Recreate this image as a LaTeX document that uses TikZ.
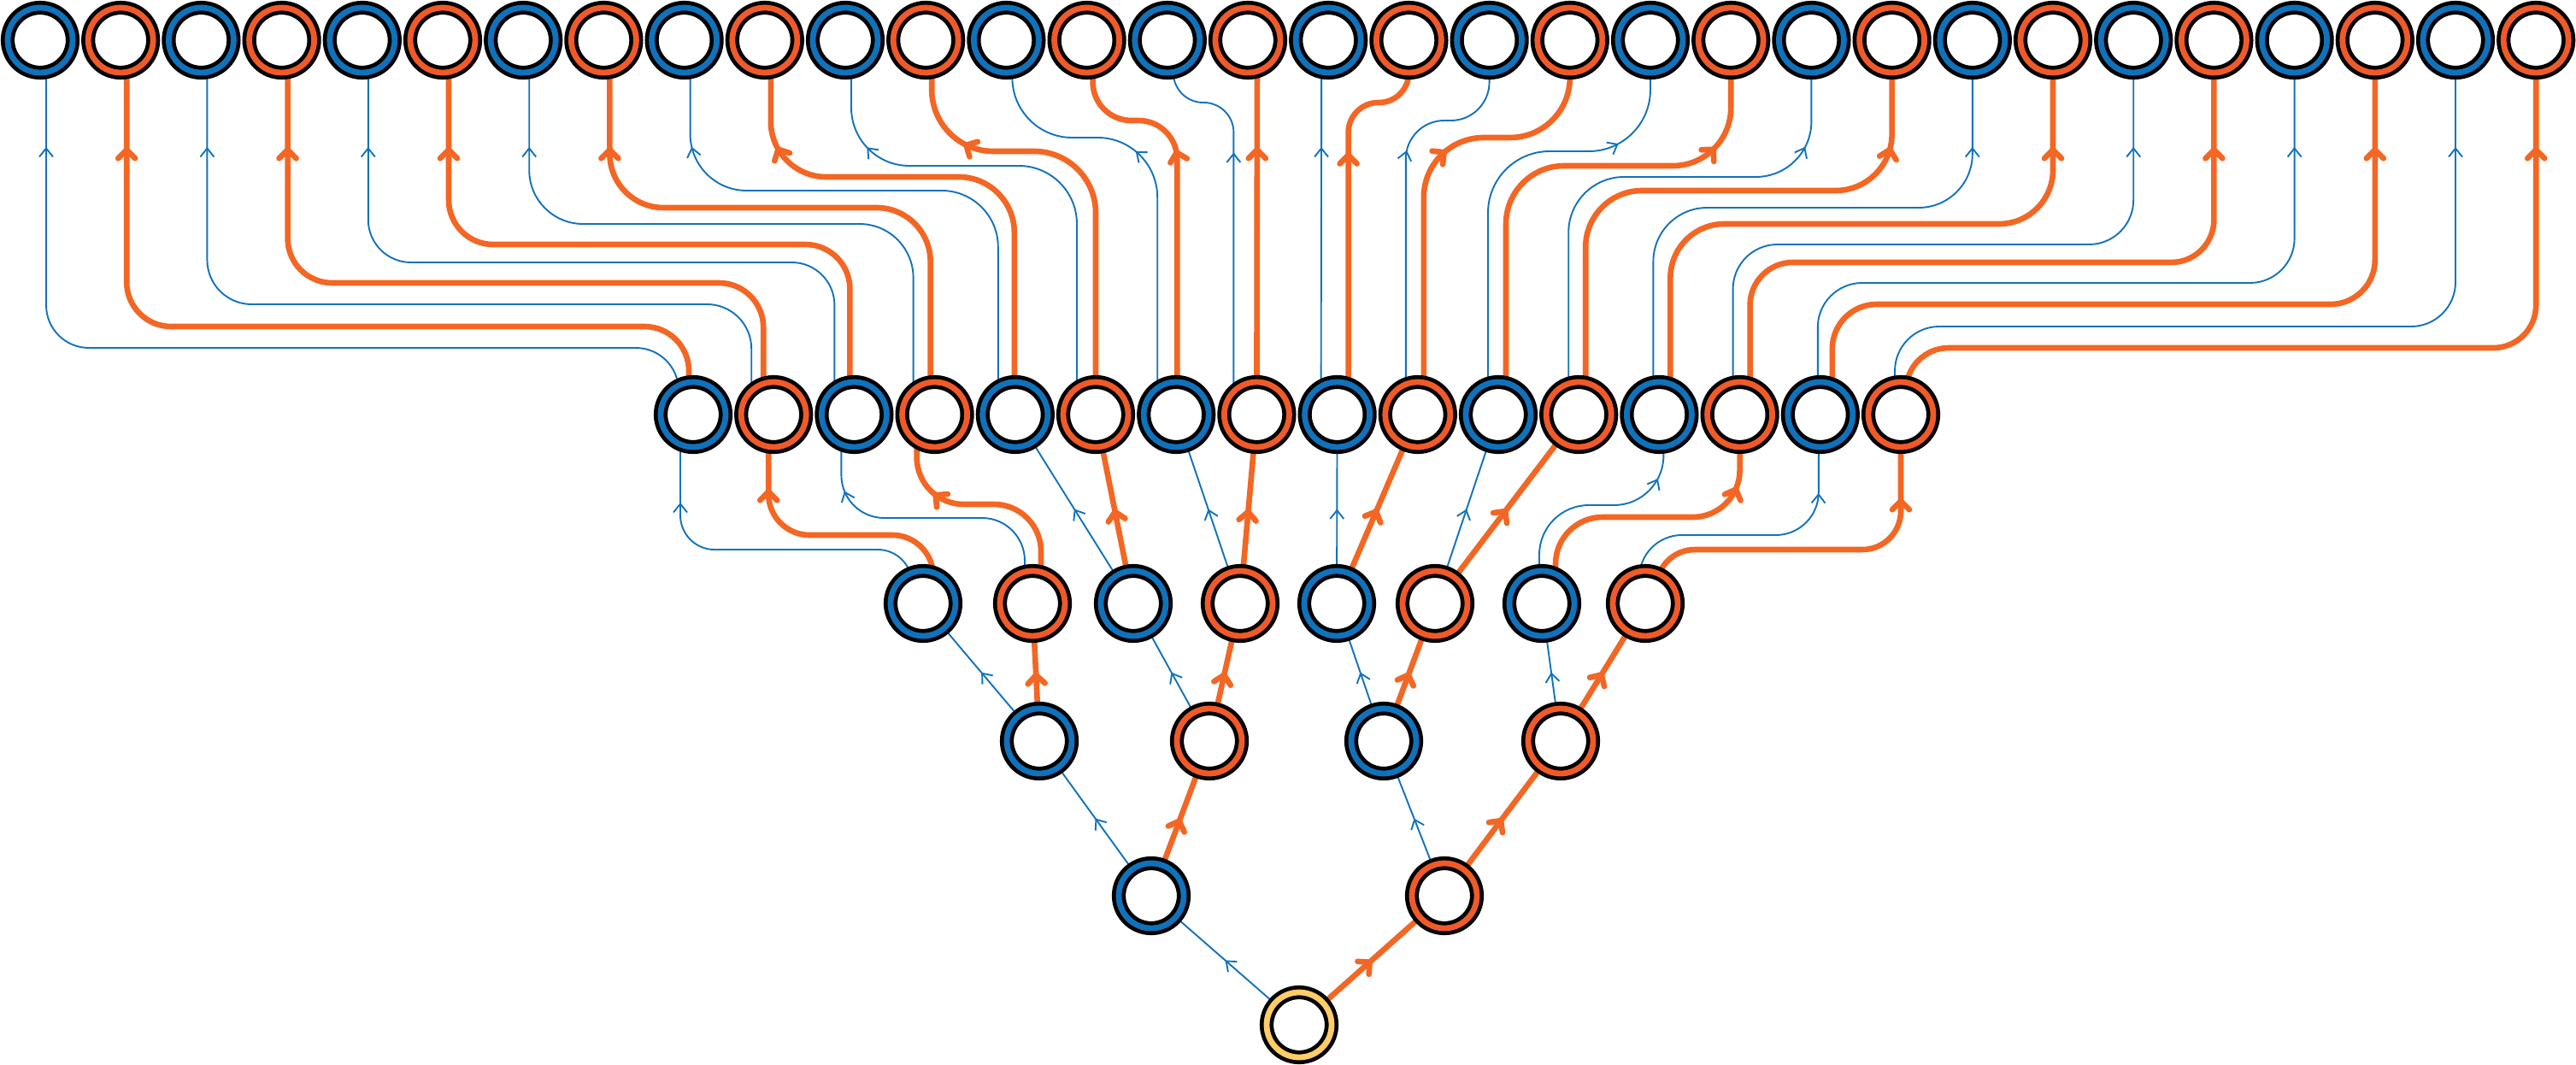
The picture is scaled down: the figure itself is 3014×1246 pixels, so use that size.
\documentclass[tikz,border=0pt]{standalone}
\usetikzlibrary{arrows.meta,decorations.markings}
\pgfdeclarelayer{bg}
\pgfsetlayers{bg,main}
\definecolor{nblue}{RGB}{16,114,186}
\definecolor{norange}{RGB}{240,90,40}
\definecolor{nyellow}{RGB}{255,204,102}
\definecolor{lblue}{RGB}{18,114,188}
\definecolor{lorange}{RGB}{243,102,35}
\tikzset{
 nodebase/.style={circle,inner sep=0pt,minimum size=76pt,draw=black,line width=4.7pt,double distance=6.8pt,fill=white},
 nodeB/.style={nodebase,double=nblue},
 nodeO/.style={nodebase,double=norange},
 nodeY/.style={nodebase,double=nyellow},
 lineB/.style={draw=lblue,line width=1.9pt},
 lineO/.style={draw=lorange,line width=6.6pt},
 arrB/.style={lineB,postaction={decorate},decoration={markings,mark=at position #1 with {\arrow{Straight Barb[length=10pt,width=16pt]}}}},
 arrO/.style={lineO,postaction={decorate},decoration={markings,mark=at position #1 with {\arrow{Straight Barb[length=10pt,width=20pt,round]}}}},
}
\begin{document}
\begin{tikzpicture}[x=1pt,y=-1pt]
\useasboundingbox (0,0) rectangle (3014,1246);
% top row
\foreach \i in {0,...,15}{
  \pgfmathsetmacro\xa{47+94.2*(2*\i)}
  \pgfmathsetmacro\xb{47+94.2*(2*\i+1)}
  \pgfmathtruncatemacro\ia{2*\i}
  \pgfmathtruncatemacro\ib{2*\i+1}
  \node[nodeB] (e\ia) at (\xa,47) {};
  \node[nodeO] (e\ib) at (\xb,47) {};
}
% level 4
\foreach \i in {0,...,7}{
  \pgfmathsetmacro\xa{811+94.2*(2*\i)}
  \pgfmathsetmacro\xb{811+94.2*(2*\i+1)}
  \pgfmathtruncatemacro\ia{2*\i}
  \pgfmathtruncatemacro\ib{2*\i+1}
  \node[nodeB] (d\ia) at (\xa,485) {};
  \node[nodeO] (d\ib) at (\xb,485) {};
}
% level 3
\node[nodeB] (c0) at (1080,706) {};
\node[nodeO] (c1) at (1208,706) {};
\node[nodeB] (c2) at (1326,706) {};
\node[nodeO] (c3) at (1451,706) {};
\node[nodeB] (c4) at (1564,706) {};
\node[nodeO] (c5) at (1679,706) {};
\node[nodeB] (c6) at (1804,706) {};
\node[nodeO] (c7) at (1925,706) {};
% level 2
\node[nodeB] (b0) at (1216,867) {};
\node[nodeO] (b1) at (1415,867) {};
\node[nodeB] (b2) at (1619,867) {};
\node[nodeO] (b3) at (1826,867) {};
% level 1
\node[nodeB] (a0) at (1347,1048) {};
\node[nodeO] (a1) at (1690,1048) {};
% root
\node[nodeY] (r) at (1520,1199) {};

\begin{pgfonlayer}{bg}
\fill[white] (0,0) rectangle (3014,1246);
% straight connectors
\foreach \p/\q in {r/a0,a0/b0,a1/b2,b0/c0,b1/c2,b2/c4,b3/c6,c2/d4,c3/d6,c4/d8,c5/d10}
  \draw[arrB=0.5] (\p) -- (\q);
\foreach \p/\q in {r/a1,a0/b1,a1/b3,b0/c1,b1/c3,b2/c5,b3/c7,c2/d5,c3/d7,c4/d9,c5/d11}
  \draw[arrO=0.5] (\p) -- (\q);
% level 3 -> level 4 routed
\draw[arrB=-103pt,rounded corners=40pt] ([xshift=-13pt]c0.center) -- ++(0,-63) -| ([xshift=-15pt]d0.center);
\draw[arrO=-87pt,rounded corners=48pt] ([xshift=12pt]c0.center) -- ++(0,-80) -| ([xshift=-6pt]d1.center);
\draw[arrB=-90pt,rounded corners=50pt] ([xshift=-9pt]c1.center) -- ++(0,-100) -| ([xshift=-15pt]d2.center);
\draw[arrO=-98pt,rounded corners=55pt] ([xshift=10pt]c1.center) -- ++(0,-116) -| ([xshift=-21pt]d3.center);
\draw[arrB=-76pt,rounded corners=58pt] ([xshift=-3pt]c6.center) -- ++(0,-115) -| ([xshift=5pt]d12.center);
\draw[arrO=-85pt,rounded corners=55pt] ([xshift=16pt]c6.center) -- ++(0,-101) -| (d13.center);
\draw[arrB=-92pt,rounded corners=50pt] ([xshift=-7pt]c7.center) -- ++(0,-80) -| ([xshift=-2pt]d14.center);
\draw[arrO=-98pt,rounded corners=45pt] ([xshift=13pt]c7.center) -- ++(0,-63) -| (d15.center);
% level 4 -> top row, left half
\draw[arrB=-125pt,rounded corners=50pt] ([xshift=-17pt]d0.center) -- ++(0,-78) -| ([xshift=7pt]e0.center);
\draw[arrO=-125pt,rounded corners=52pt] ([xshift=-5pt]d0.center) -- ++(0,-103) -| ([xshift=7pt]e1.center);
\draw[arrB=-125pt,rounded corners=52pt] ([xshift=-26pt]d1.center) -- ++(0,-129) -| ([xshift=7pt]e2.center);
\draw[arrO=-125pt,rounded corners=52pt] ([xshift=-12pt]d1.center) -- ++(0,-154) -| ([xshift=7pt]e3.center);
\draw[arrB=-125pt,rounded corners=50pt] ([xshift=-23pt]d2.center) -- ++(0,-178) -| ([xshift=7pt]e4.center);
\draw[arrO=-125pt,rounded corners=52pt] ([xshift=-5pt]d2.center) -- ++(0,-199) -| ([xshift=7pt]e5.center);
\draw[arrB=-125pt,rounded corners=63pt] ([xshift=-25pt]d3.center) -- ++(0,-223) -| ([xshift=7pt]e6.center);
\draw[arrO=-125pt,rounded corners=63pt] ([xshift=-5pt]d3.center) -- ++(0,-242) -| ([xshift=7pt]e7.center);
\draw[arrB=-125pt,rounded corners=66pt] ([xshift=-20pt]d4.center) -- ++(0,-262) -| ([xshift=7pt]e8.center);
\draw[arrO=-126pt,rounded corners=65pt] ([xshift=-1pt]d4.center) -- ++(0,-278) -| ([xshift=7pt]e9.center);
\draw[arrB=-130pt,rounded corners=68pt] ([xshift=-22pt]d5.center) -- ++(0,-291) -| ([xshift=7pt]e10.center);
\draw[arrO=-135pt,rounded corners=72pt] (d5.center) -- ++(0,-308) -| ([xshift=7pt]e11.center);
\draw[arrB=-232pt,rounded corners=70pt] ([xshift=-22pt]d6.center) -- ++(0,-324) -| ([xshift=7pt]e12.center);
\draw[arrO=-188pt,rounded corners=45pt] ([xshift=1pt]d6.center) -- ++(0,-344) -| ([xshift=7pt]e13.center);
\draw[arrB=-172pt,rounded corners=35pt] ([xshift=-27pt]d7.center) -- ++(0,-365) -| ([xshift=7pt]e14.center);
\draw[arrO=-125pt] (d7.center) -- ([xshift=11pt]e15.center);
% level 4 -> top row, right half
\draw[arrB=-125pt] ([xshift=-19pt]d8.center) -- ([xshift=-8pt]e16.center);
\draw[arrO=-172pt,rounded corners=35pt] ([xshift=13pt]d8.center) -- ++(0,-365) -| (e17.center);
\draw[arrB=-188pt,rounded corners=45pt] ([xshift=-14pt]d9.center) -- ++(0,-344) -| (e18.center);
\draw[arrO=-232pt,rounded corners=70pt] ([xshift=7pt]d9.center) -- ++(0,-324) -| (e19.center);
\draw[arrB=-135pt,rounded corners=72pt] ([xshift=-12pt]d10.center) -- ++(0,-308) -| (e20.center);
\draw[arrO=-130pt,rounded corners=68pt] ([xshift=9pt]d10.center) -- ++(0,-291) -| (e21.center);
\draw[arrB=-126pt,rounded corners=65pt] ([xshift=-12pt]d11.center) -- ++(0,-278) -| (e22.center);
\draw[arrO=-125pt,rounded corners=66pt] ([xshift=8pt]d11.center) -- ++(0,-262) -| (e23.center);
\draw[arrB=-125pt,rounded corners=63pt] ([xshift=-7pt]d12.center) -- ++(0,-242) -| (e24.center);
\draw[arrO=-125pt,rounded corners=63pt] ([xshift=13pt]d12.center) -- ++(0,-223) -| (e25.center);
\draw[arrB=-125pt,rounded corners=52pt] ([xshift=-8pt]d13.center) -- ++(0,-199) -| (e26.center);
\draw[arrO=-125pt,rounded corners=50pt] ([xshift=12pt]d13.center) -- ++(0,-178) -| (e27.center);
\draw[arrB=-125pt,rounded corners=52pt] ([xshift=-3pt]d14.center) -- ++(0,-154) -| (e28.center);
\draw[arrO=-125pt,rounded corners=52pt] ([xshift=14pt]d14.center) -- ++(0,-129) -| (e29.center);
\draw[arrB=-125pt,rounded corners=52pt] ([xshift=-7pt]d15.center) -- ++(0,-103) -| (e30.center);
\draw[arrO=-125pt,rounded corners=50pt] ([xshift=6pt]d15.center) -- ++(0,-78) -| (e31.center);
\end{pgfonlayer}
\end{tikzpicture}
\end{document}
